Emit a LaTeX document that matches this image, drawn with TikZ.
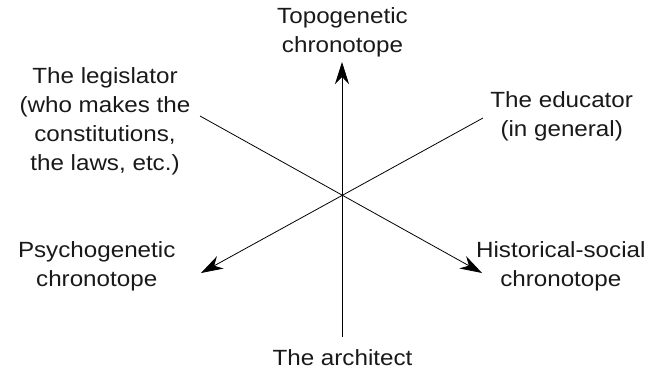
\documentclass[tikz,border=0pt]{standalone}
\usepackage{fontspec}
\setmainfont{Liberation Sans}[FakeStretch=1.1]
\usetikzlibrary{arrows.meta}
\begin{document}
\begin{tikzpicture}[x=1pt,y=-1pt,
  lbl/.style={align=center,inner sep=0pt,anchor=base,font=\fontsize{22}{29.1}\selectfont,text=black!90},
  axis/.style={line width=0.8pt},
  arr/.style={axis,-{Stealth[length=22pt,width=14pt,inset=7pt]}}]
\useasboundingbox (0,0) rectangle (660,369);
\coordinate (c) at (342,195);
\coordinate (bot) at (342,337);
\coordinate (top) at (342,62);
\coordinate (ul) at (200,116);
\coordinate (lr) at (482,273);
\coordinate (ur) at (483,118);
\coordinate (ll) at (201,273);
\draw[arr] (bot) -- (top);
\draw[arr] (ul) -- (lr);
\draw[arr] (ur) -- (ll);
\node[lbl] (topo) at (342.5,52.7) {Topogenetic\\chronotope};
\node[lbl] (leg) at (105,170.7) {The legislator\\(who makes the\\constitutions,\\the laws, etc.)};
\node[lbl] (edu) at (561.7,136.7) {The educator\\(in general)};
\node[lbl] (psy) at (96.7,286.7) {Psychogenetic\\chronotope};
\node[lbl] (his) at (560.8,286.7) {Historical-social\\chronotope};
\node[lbl] (arch) at (342.5,365) {The architect};
\end{tikzpicture}
\end{document}
